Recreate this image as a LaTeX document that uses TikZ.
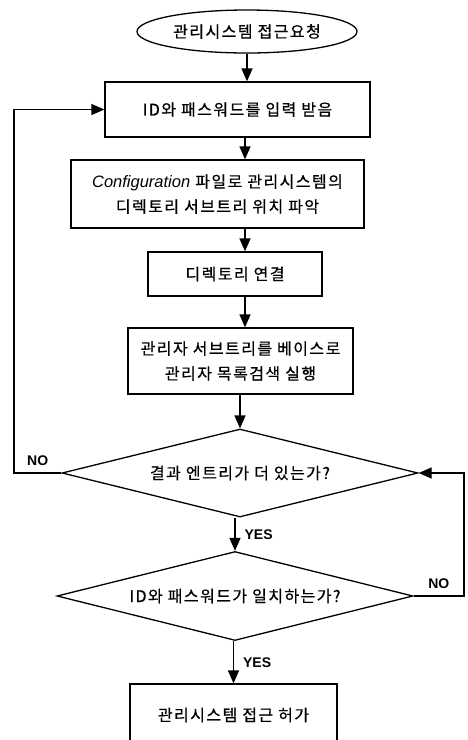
\documentclass[tikz,border=0pt]{standalone}
\usepackage{fontspec}
\setmainfont{Noto Sans CJK KR}[LetterSpace=9, FakeBold=0.6]
\newfontfamily\latin{Liberation Sans}
\usetikzlibrary{shapes.geometric}
\usetikzlibrary{arrows.meta}
\tikzstyle{box}=[draw, rectangle, line width=1.3pt, align=center, inner sep=0pt]
\tikzstyle{decision}=[draw, diamond, aspect=4, line width=1.3pt, inner sep=0pt, minimum width=356pt, minimum height=88pt]
\tikzstyle{terminal}=[draw, ellipse, line width=1.3pt, inner sep=0pt]
\tikzstyle{flow}=[-{Triangle[length=13pt,width=11pt]}, line width=1.3pt]
\tikzstyle{answer}=[font=\latin\bfseries\fontsize{14}{14}\selectfont, inner sep=1pt]
\newcommand{\cfgword}{{\latin\itshape\fontsize{16.5}{16}\selectfont Configuration}}

\begin{document}
\begin{tikzpicture}[x=1pt, y=-1pt, every node/.style={font=\fontsize{16}{25}\selectfont}]
	\useasboundingbox (0,0) rectangle (467,740);
	\clip (0,0) rectangle (467,740);
	% the blocks, top to bottom
	\node[terminal, minimum width=220pt, minimum height=43pt] (start) at (247,31.5) {관리시스템 접근요청};
	\node[box, minimum width=265pt, minimum height=55pt] (in) at (237.5,109.5) {ID와 패스워드를 입력 받음};
	\node[box, minimum width=293pt, minimum height=68pt] (conf) at (217.5,194) {\cfgword{} 파일로 관리시스템의\\디렉토리 서브트리 위치 파악};
	\node[box, minimum width=174pt, minimum height=44pt] (conn) at (235,274) {디렉토리 연결};
	\node[box, minimum width=225pt, minimum height=66pt] (search) at (240.5,361) {관리자 서브트리를 베이스로\\관리자 목록검색 실행};
	\node[decision] (more) at (240,473) {결과 엔트리가 더 있는가?};
	\node[decision, minimum height=89pt] (match) at (235,596) {ID와 패스워드가 일치하는가?};
	\node[box, minimum width=207pt, minimum height=62pt] (ok) at (233.5,715) {관리시스템 접근 허가};
	% columns for the connectors
	\coordinate (col) at (245,0);
	\coordinate (lft) at (14,0);
	\coordinate (rgt) at (464,0);
	% main flow
	\draw[flow] (start.south) -- (start.south |- in.north);
	\draw[flow] (col |- in.south) -- (col |- conf.north);
	\draw[flow] (col |- conf.south) -- (col |- conn.north);
	\draw[flow] (col |- conn.south) -- (col |- search.north);
	\draw[flow] (search.south -| more.north) -- (more.north);
	\draw[flow] (more.south -| match.north) -- node[answer, right=8pt] {YES} (match.north);
	\draw[flow] (match.south -| ok.north) -- node[answer, right=8pt] {YES} (ok.north);
	% loops back
	\draw[flow] (more.west) -- node[answer, above=6pt] {NO} (more.west -| lft) |- (in.west);
	\draw[flow] (match.east) -- node[answer, above=6pt] {NO} (match.east -| rgt) |- (more.east);
\end{tikzpicture}
\end{document}
